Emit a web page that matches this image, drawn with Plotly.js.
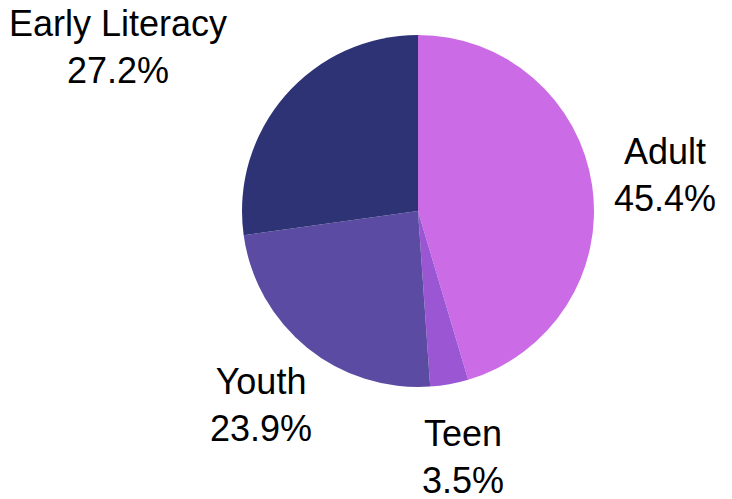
<!DOCTYPE html>
<html><head><meta charset="utf-8">
<script src="https://cdn.plot.ly/plotly-3.0.1.min.js"></script>
<style>html,body{margin:0;padding:0;background:#fff}#chart{width:732px;height:499px}</style>
</head><body><div id="chart"></div>
<script>
const categories = ["Adult", "Teen", "Youth", "Early Literacy"];
const shares = [45.4, 3.5, 23.9, 27.2];
const sliceColors = ["#CB6CE6", "#9B57D3", "#5C4BA2", "#2E3375"];

const W = 732, H = 499;
const dom = {x: [0.3306, 0.8115], y: [0.2244, 0.9299]};
const cx = (dom.x[0] + dom.x[1]) / 2 * W;
const cy = (1 - (dom.y[0] + dom.y[1]) / 2) * H;
const R = Math.min((dom.x[1] - dom.x[0]) * W, (dom.y[1] - dom.y[0]) * H) / 2;
const FONT = 36;
const labelDist = 1.42;

const total = shares.reduce((a, b) => a + b, 0);
let cum = 0;
const annotations = categories.map((c, i) => {
  const mid = (cum + shares[i] / 2) / total * 2 * Math.PI;
  cum += shares[i];
  const dx = Math.sin(mid) * R * labelDist;
  const dy = -Math.cos(mid) * R * labelDist;
  const halfW = Math.max(c.length, 5) * 0.28 * FONT;
  let xanchor = "center";
  if (Math.abs(dx) - halfW < R * 0.9 && Math.abs(dy) < R) xanchor = dx < 0 ? "right" : "left";
  return {
    xref: "paper", yref: "paper",
    x: (cx + dx) / W, y: 1 - (cy + dy) / H,
    xanchor: xanchor, yanchor: "middle",
    text: c + "<br>" + shares[i].toFixed(1) + "%",
    showarrow: false, align: "center",
    font: {family: "Liberation Sans, Arial, sans-serif", size: FONT, color: "#000"}
  };
});

Plotly.newPlot("chart", [{
  type: "pie",
  labels: categories,
  values: shares,
  sort: false,
  direction: "clockwise",
  rotation: 0,
  marker: {colors: sliceColors, line: {width: 0}},
  textinfo: "none",
  domain: dom,
  hoverinfo: "none",
  showlegend: false
}], {
  width: W, height: H,
  margin: {l: 0, r: 0, t: 0, b: 0},
  paper_bgcolor: "#fff",
  showlegend: false,
  annotations: annotations
}, {displayModeBar: false, staticPlot: true});
</script></body></html>
